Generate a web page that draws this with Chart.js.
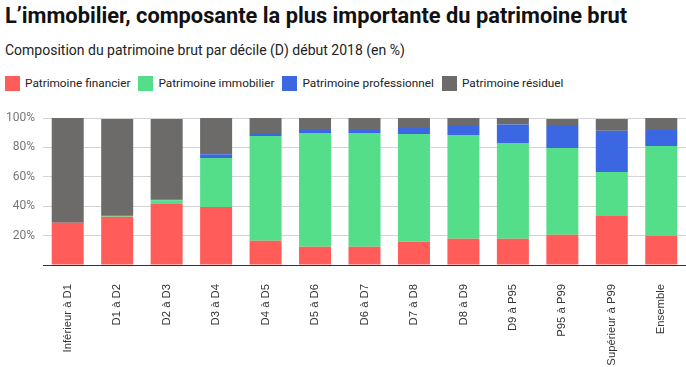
<!DOCTYPE html>
<html lang="fr">
<head>
<meta charset="utf-8">
<script src="https://cdn.jsdelivr.net/npm/chart.js@4/dist/chart.umd.min.js"></script>
<style>
    html, body { margin: 0; padding: 0; background: #fff; }
    body { width: 686px; height: 367px; position: relative; overflow: hidden; font-family: Roboto, sans-serif; }
    #title { position: absolute; left: 5px; top: 3px; font-size: 21.8px; line-height: 26px; font-weight: 700; color: #111; white-space: nowrap; }
    #subtitle { position: absolute; left: 5px; top: 41px; font-size: 14px; line-height: 18px; color: #222; white-space: nowrap; }
    #legend { position: absolute; left: 5px; top: 76px; display: flex; gap: 8px; font-size: 11.8px; line-height: 15px; color: #222; white-space: nowrap; }
    #legend .item { display: flex; align-items: center; }
    #legend .box { width: 15px; height: 15px; margin-right: 5px; }
    #wrap { position: absolute; left: 0; top: 100px; width: 686px; height: 267px; }
</style>
</head>
<body>
<div id="title">L’immobilier, composante la plus importante du patrimoine brut</div>
<div id="subtitle">Composition du patrimoine brut par décile (D) début 2018 (en %)</div>
<div id="legend"></div>
<div id="wrap"><canvas id="patrimoineChart"></canvas></div>
<script>
const categories = ['Inférieur à D1', 'D1 à D2', 'D2 à D3', 'D3 à D4', 'D4 à D5', 'D5 à D6', 'D6 à D7',
    'D7 à D8', 'D8 à D9', 'D9 à P95', 'P95 à P99', 'Supérieur à P99', 'Ensemble'];
const financier = [28.8, 32.9, 41.5, 39.5, 16.5, 12.5, 12.5, 15.9, 17.9, 17.9, 20.6, 33.3, 19.7];
const immobilier = [0, 0.5, 2.5, 33.3, 71.3, 77.3, 77.3, 73.2, 70.5, 65.1, 59.0, 30.0, 61.3];
const professionnel = [0, 0.5, 0.7, 2.5, 2.0, 2.0, 2.0, 4.1, 6.2, 12.5, 15.0, 28.1, 10.8];
const residuel = [71.2, 65.4, 54.6, 24.7, 10.2, 8.2, 8.2, 6.8, 5.8, 4.5, 4.7, 7.9, 8.2];
const yTickLabels = ['', '20%', '40%', '60%', '80%', '100%'];

const seriesNames = ['Patrimoine financier', 'Patrimoine immobilier', 'Patrimoine professionnel', 'Patrimoine résiduel'];
const seriesColors = ['#ff5c5a', '#54de8a', '#3c67e3', '#6c6b69'];
const seriesData = [financier, immobilier, professionnel, residuel];

// legend in HTML
const legendEl = document.getElementById('legend');
seriesNames.forEach((name, i) => {
    const item = document.createElement('div');
    item.className = 'item';
    const box = document.createElement('span');
    box.className = 'box';
    box.style.background = seriesColors[i];
    const label = document.createElement('span');
    label.textContent = name;
    item.appendChild(box);
    item.appendChild(label);
    legendEl.appendChild(item);
});

const ctx = document.getElementById('patrimoineChart');
new Chart(ctx, {
    type: 'bar',
    data: {
        labels: categories,
        datasets: seriesData.map((data, i) => ({
            label: seriesNames[i],
            data: data,
            backgroundColor: seriesColors[i],
            borderWidth: 0,
            barPercentage: 0.647,
            categoryPercentage: 1
        }))
    },
    options: {
        responsive: true,
        maintainAspectRatio: false,
        animation: false,
        layout: {
            autoPadding: false,
            padding: { top: 18, right: 0, left: 0, bottom: 0 }
        },
        plugins: {
            legend: { display: false },
            tooltip: { enabled: false }
        },
        scales: {
            x: {
                stacked: true,
                grid: { display: false },
                border: { display: true, color: '#333', width: 1 },
                ticks: {
                    maxRotation: 90,
                    minRotation: 90,
                    padding: 11,
                    color: '#333',
                    font: { family: 'Liberation Sans', size: 11.3 }
                },
                afterFit: (scale) => { scale.height = 102; }
            },
            y: {
                stacked: true,
                min: 0,
                max: 100,
                grid: { color: '#d4d4d4', lineWidth: 1, drawTicks: false },
                border: { display: false },
                ticks: {
                    stepSize: 20,
                    padding: 8,
                    color: '#777',
                    font: { family: 'Roboto', size: 12 },
                    callback: (value, index) => yTickLabels[index]
                },
                afterFit: (scale) => { scale.width = 43; }
            }
        }
    }
});
</script>
</body>
</html>
